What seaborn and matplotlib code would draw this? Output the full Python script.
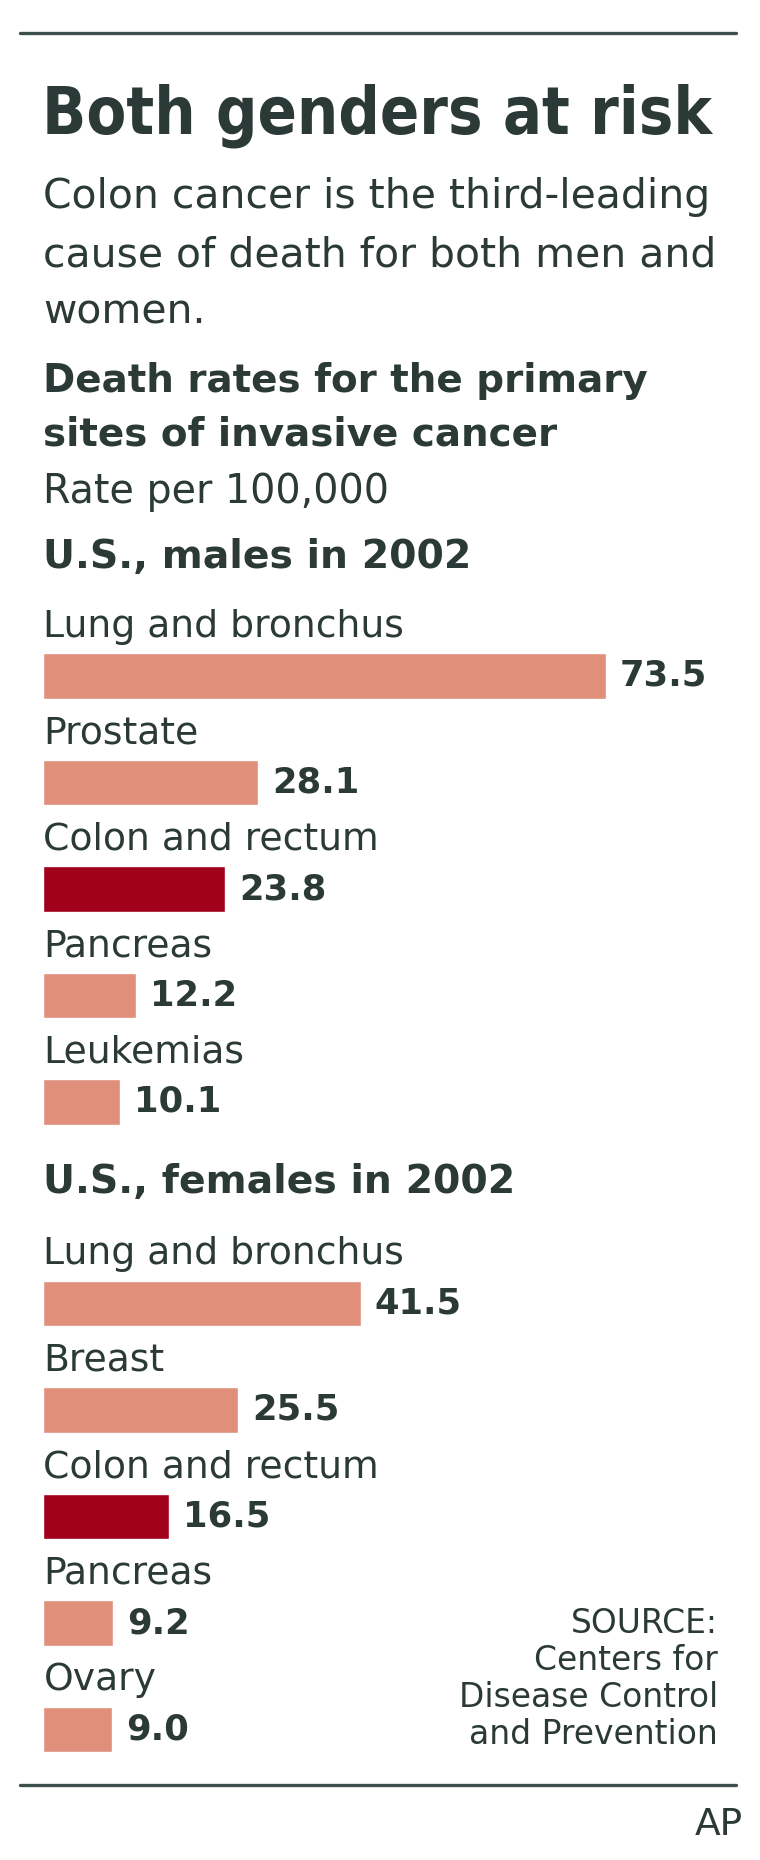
import numpy as np
import pandas as pd
import seaborn as sns
import matplotlib.pyplot as plt
from matplotlib.lines import Line2D

# data (rate per 100,000, 2002)
male_sites = ['Lung and bronchus', 'Prostate', 'Colon and rectum', 'Pancreas', 'Leukemias']
male_rates = [73.5, 28.1, 23.8, 12.2, 10.1]
female_sites = ['Lung and bronchus', 'Breast', 'Colon and rectum', 'Pancreas', 'Ovary']
female_rates = [41.5, 25.5, 16.5, 9.2, 9.0]
highlight = 'Colon and rectum'

title = 'Both genders at risk'
subtitle = ['Colon cancer is the third-leading', 'cause of death for both men and', 'women.']
chart_head = ['Death rates for the primary', 'sites of invasive cancer']
unit_note = 'Rate per 100,000'
male_head = 'U.S., males in 2002'
female_head = 'U.S., females in 2002'
source = ['SOURCE:', 'Centers for', 'Disease Control', 'and Prevention']
credit = 'AP'

sns.set_theme(style='white')
plt.rcParams['font.family'] = ['DejaVu Sans']

ink = '#2b3a37'
bar_col = '#e08f7a'
hi_col = '#a0001a'

W, H = 760, 1860
fig = plt.figure(figsize=(W / 100, H / 100), dpi=100)
fig.patch.set_facecolor('white')

def fy(px):
    return 1 - px / H

def fx(px):
    return px / W

# rules top and bottom
for y in (33, 1785):
    fig.add_artist(Line2D([fx(20), fx(736)], [fy(y), fy(y)], color='#3d4f4c', lw=2.4))

# headline in the condensed bold cut
fig.text(fx(42), fy(134), title, family='DejaVu Sans', stretch='condensed', weight='bold',
         fontsize=46.5, color=ink, va='baseline')
for i, line in enumerate(subtitle):
    fig.text(fx(43), fy(208 + 58 * i), line, fontsize=29.4, color=ink, va='baseline')
for i, line in enumerate(chart_head):
    fig.text(fx(43), fy(392 + 53 * i), line, fontsize=28, weight='bold', color=ink, va='baseline')
fig.text(fx(43), fy(503), unit_note, fontsize=28.5, color=ink, va='baseline')
fig.text(fx(43), fy(568), male_head, fontsize=28.4, weight='bold', color=ink, va='baseline')
fig.text(fx(43), fy(1193), female_head, fontsize=28.4, weight='bold', color=ink, va='baseline')


def panel(top_px, sites, rates):
    row = 106.5
    ax = fig.add_axes([fx(43), fy(top_px + 5 * row), fx(700), 5 * row / H])
    df = pd.DataFrame({'site': sites, 'rate': rates})
    pal = [hi_col if s == highlight else bar_col for s in sites]
    sns.barplot(data=df, x='rate', y='site', hue='site', palette=pal, legend=False,
                width=0.43, saturation=1, orient='h', ax=ax)
    ax.set_xlim(0, 700 / 7.66)
    ax.set_ylim(4.5, -0.5)
    ax.axis('off')
    for c in ax.containers:
        ax.bar_label(c, fmt='%.1f', padding=10, fontsize=25.5, weight='bold', color=ink)
    # site names sit above each bar
    for i, s in enumerate(sites):
        ax.text(0.05, i - 0.37, s, fontsize=27.2, color=ink, va='baseline')
    return ax


panel(676 - 53.25, male_sites, male_rates)
panel(1303.5 - 53.25, female_sites, female_rates)

for i, line in enumerate(source):
    fig.text(fx(718), fy(1633 + 37 * i), line, fontsize=23.7, color=ink,
             ha='right', va='baseline')
fig.text(fx(743), fy(1835), credit, fontsize=27, color=ink, ha='right', va='baseline')

fig.savefig('out.png', dpi=100, facecolor='white')
